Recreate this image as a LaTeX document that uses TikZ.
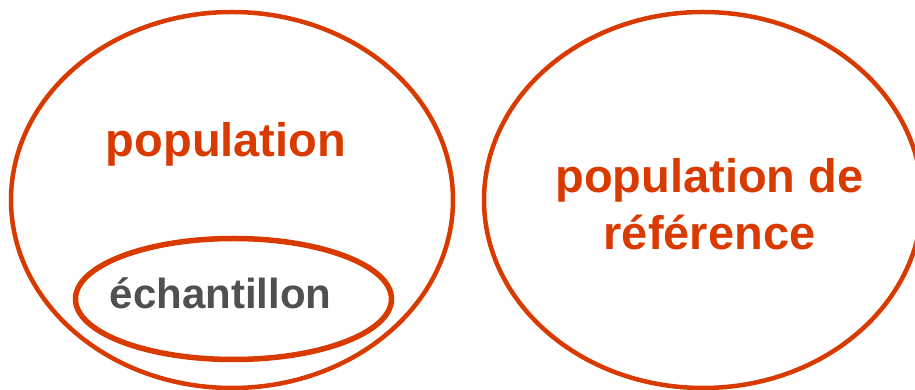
\documentclass[tikz,border=0pt]{standalone}
\usepackage{fontspec}
\setmainfont{Liberation Sans}
\usepackage{xcolor}
\usetikzlibrary{shapes.geometric}

\definecolor{setred}{RGB}{217,58,0}
\definecolor{setgrey}{RGB}{80,80,80}

\begin{document}
\begin{tikzpicture}[
    x=1pt, y=1pt,
    set/.style={draw=setred, ellipse, inner sep=0pt, line width=4.5pt},
    subset/.style={draw=setred, ellipse, inner sep=0pt, line width=5.5pt},
    biglabel/.style={text=setred, font=\bfseries\fontsize{47}{57}\selectfont, align=center, inner sep=0pt},
    smalllabel/.style={text=setgrey, font=\bfseries\fontsize{42}{50}\selectfont, inner sep=0pt}
]
    \useasboundingbox (0,0) rectangle (915,390);

    \node[set, minimum width=442pt, minimum height=376pt] (pop) at (232,190) {};
    \node[set, minimum width=438pt, minimum height=376pt] (ref) at (703,190) {};
    \node[subset, minimum width=316pt, minimum height=121pt] (ech) at (233.5,91) {};

    \node[biglabel, anchor=base] (poplabel) at (226,233) {population};
    \node[biglabel, anchor=base] (reflabel) at (709.5,140) {population de\\référence};
    \node[smalllabel, anchor=base] (echlabel) at (220.5,81) {échantillon};
\end{tikzpicture}
\end{document}
